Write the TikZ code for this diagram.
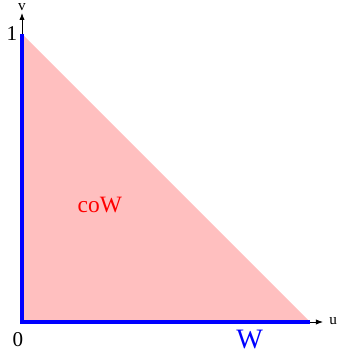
\documentclass[tikz,border=0pt]{standalone}
\usepackage{fontspec}
\setmainfont{Liberation Serif}
\usetikzlibrary{arrows.meta}

\begin{document}
\begin{tikzpicture}[
        x=8.64cm, y=8.64cm,
        axis/.style={draw=black, line width=0.7pt, -{Latex[length=6pt,width=4.5pt]}},
        leg/.style={draw=blue, line width=3.2pt},
        tick/.style={font=\fontsize{18}{18}\selectfont},
        axlabel/.style={font=\fontsize{13}{13}\selectfont, inner sep=0pt},
        region/.style={fill=red!25}]
        \useasboundingbox (-0.0764,-0.1146) rectangle (1.0938,1.118);
        \coordinate (o) at (0,0);
        \coordinate (a) at (1,0);
        \coordinate (b) at (0,1);
        \coordinate (ue) at (1.045,0);
        \coordinate (ve) at (0,1.073);
        \fill[region] (o) -- (a) -- (b) -- cycle;
        \draw[axis] (a) -- (ue);
        \draw[axis] (b) -- (ve);
        \draw[leg] (b) -- (o) -- (a);
        \node[axlabel] (u) at (1.08,0.002) {u};
        \node[axlabel] (v) at (0,1.092) {v};
        \node[tick] (one) at (-0.035,1.0) {1};
        \node[tick] (zero) at (-0.014,-0.06) {0};
        \node[text=red, font=\fontsize{20}{20}\selectfont] (cow) at (0.27,0.406) {coW};
        \node[text=blue, font=\fontsize{24}{24}\selectfont] (w) at (0.79,-0.062) {W};
    \end{tikzpicture}
\end{document}
